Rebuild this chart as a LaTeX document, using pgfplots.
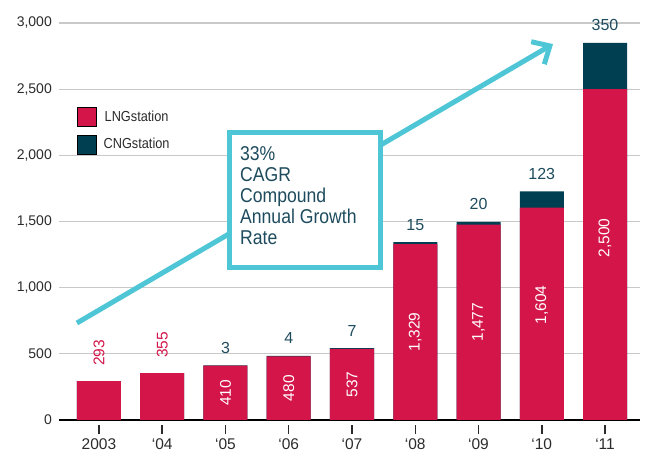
\documentclass[border=0pt]{standalone}
\usepackage{fontspec}
\setmainfont{Liberation Sans}
\newfontfamily\narrowfont[FakeStretch=0.88]{Liberation Sans}
\usepackage{pgfplots}
\pgfplotsset{compat=1.18}
\usetikzlibrary{arrows.meta}
\definecolor{lng}{HTML}{D3154A}
\definecolor{cng}{HTML}{003F51}
\definecolor{lbl}{HTML}{1E4B5D}
\definecolor{arr}{HTML}{4EC6D5}
\definecolor{gridc}{HTML}{C9C9C9}
\definecolor{tickc}{HTML}{2B2B2B}
\begin{document}
\begin{tikzpicture}[x=1pt,y=1pt]
\begin{axis}[
  at={(59pt,35pt)}, anchor=south west,
  scale only axis, width=581pt, height=397pt,
  xmin=-0.632, xmax=8.553, ymin=0, ymax=3000,
  clip=false,
  axis x line*=bottom, axis y line*=left,
  x axis line style={draw=black, line width=1.5pt},
  y axis line style={draw=none},
  ytick={0,500,1000,1500,2000,2500,3000},
  ymajorgrids, grid style={gridc, line width=1.2pt},
  ytick style={draw=none},
  xtick={0,1,2,3,4,5,6,7,8},
  xticklabels={2003,‘04,‘05,‘06,‘07,‘08,‘09,‘10,‘11},
  xtick align=outside, ytick align=inside, major tick length=19pt,
  xtick style={draw=tickc, line width=1.5pt, dash pattern=on 0pt off 5pt on 9pt off 5pt},
  xticklabel style={font=\fontsize{15.5}{16}\selectfont, text=tickc},
  xticklabel shift=-4pt,
  yticklabel style={font=\fontsize{14}{16}\selectfont, text=tickc, anchor=east, inner sep=0pt, xshift=-7pt},
  /pgf/number format/1000 sep={,},
  /pgf/number format/assume math mode=true,
  legend style={at={(0.031,0.788)}, anchor=north west, draw=none, fill=none,
    inner sep=0pt, row sep=8pt, column sep=5pt,
    font=\narrowfont\fontsize{14.5}{15}\selectfont, text=tickc},
  legend image code/.code={\fill[#1] (0pt,-9.5pt) rectangle (19pt,9.5pt);},
]
% CNG drawn as the stack total (LNG + CNG), LNG drawn over it
\addplot[ybar, bar width=44pt, bar shift=0pt, fill=cng, draw=none, forget plot]
  coordinates {(0,293) (1,355) (2,413) (3,484) (4,544) (5,1344) (6,1497) (7,1727) (8,2850)};
\addplot[ybar, bar width=44pt, bar shift=0pt, fill=lng, draw=none, forget plot]
  coordinates {(0,293) (1,355) (2,410) (3,480) (4,537) (5,1329) (6,1477) (7,1604) (8,2500)};
\addlegendimage{fill=lng}
\addlegendentry{LNGstation}
\addlegendimage{fill=cng}
\addlegendentry{CNGstation}
% LNG labels inside bars
\addplot[draw=none, mark=none, forget plot, nodes near coords, point meta=explicit symbolic,
  nodes near coords style={rotate=90, anchor=center, text=white, inner sep=0pt,
    font=\fontsize{15.5}{16}\selectfont}]
  coordinates {(2,205)[410] (3,240)[480] (4,268)[537] (5,665)[1,329] (6,739)[1,477] (7,870)[1,604] (8,1375)[2,500]};
% LNG labels above the first two bars
\addplot[draw=none, mark=none, forget plot, nodes near coords, point meta=explicit symbolic,
  nodes near coords style={rotate=90, anchor=west, text=lng, inner sep=0pt,
    font=\fontsize{15.5}{16}\selectfont}]
  coordinates {(0,408)[293] (1,469)[355]};
% CNG labels above bars
\addplot[draw=none, mark=none, forget plot, nodes near coords, point meta=explicit symbolic,
  nodes near coords style={anchor=base, yshift=12pt, text=lbl, inner sep=0pt,
    font=\fontsize{16}{17}\selectfont}]
  coordinates {(2,413)[3] (3,484)[4] (4,544)[7] (5,1344)[15] (6,1497)[20] (7,1727)[123] (8,2850)[350]};
% CAGR arrow and box
\draw[arr, line width=5pt, -{Straight Barb[length=14pt, width=26pt]}]
  (axis cs:-0.348,733) -- (axis cs:7.178,2841);
\node[draw=arr, line width=5pt, fill=white, minimum width=151pt, minimum height=135pt, inner sep=0pt]
  at (axis cs:3.257,1662.5) {};
\node[anchor=north west, align=left, inner sep=0pt, text=lbl,
  font=\narrowfont\fontsize{20}{21}\selectfont]
  at (axis cs:2.229,2070) {33\%\\CAGR\\Compound\\Annual Growth\\Rate};
\end{axis}
\pgfresetboundingbox
\path[use as bounding box] (0,0) rectangle (646,455);
\end{tikzpicture}
\end{document}
